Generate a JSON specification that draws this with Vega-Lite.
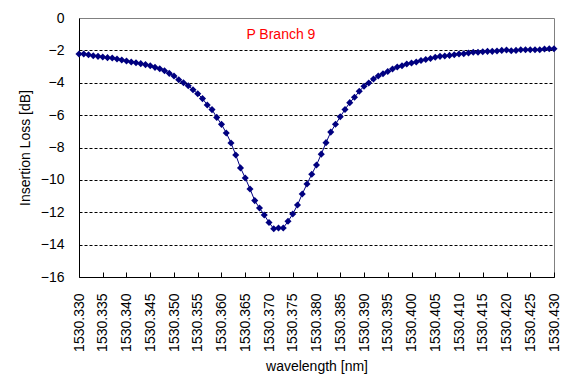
{
  "$schema": "https://vega.github.io/schema/vega-lite/v6.json",
  "autosize": "none",
  "width": 475,
  "height": 259,
  "padding": {"left": 79, "top": 18, "right": 22, "bottom": 103},
  "background": "white",
  "config": {
    "view": {"stroke": "#808080", "strokeWidth": 1},
    "axis": {
      "labelFont": "Liberation Sans",
      "titleFont": "Liberation Sans",
      "labelFontSize": 14,
      "titleFontSize": 14,
      "titleFontWeight": "normal",
      "labelColor": "black",
      "titleColor": "black",
      "domainColor": "black",
      "tickColor": "black"
    }
  },
  "layer": [
    {
      "data": {
        "values": [
          {"wavelength": 1530.330, "loss": -2.22},
          {"wavelength": 1530.331, "loss": -2.22},
          {"wavelength": 1530.332, "loss": -2.27},
          {"wavelength": 1530.333, "loss": -2.33},
          {"wavelength": 1530.334, "loss": -2.37},
          {"wavelength": 1530.335, "loss": -2.41},
          {"wavelength": 1530.336, "loss": -2.45},
          {"wavelength": 1530.337, "loss": -2.47},
          {"wavelength": 1530.338, "loss": -2.53},
          {"wavelength": 1530.339, "loss": -2.59},
          {"wavelength": 1530.340, "loss": -2.66},
          {"wavelength": 1530.341, "loss": -2.72},
          {"wavelength": 1530.342, "loss": -2.76},
          {"wavelength": 1530.343, "loss": -2.82},
          {"wavelength": 1530.344, "loss": -2.88},
          {"wavelength": 1530.345, "loss": -2.95},
          {"wavelength": 1530.346, "loss": -3.05},
          {"wavelength": 1530.347, "loss": -3.13},
          {"wavelength": 1530.348, "loss": -3.26},
          {"wavelength": 1530.349, "loss": -3.42},
          {"wavelength": 1530.350, "loss": -3.58},
          {"wavelength": 1530.351, "loss": -3.81},
          {"wavelength": 1530.352, "loss": -4.00},
          {"wavelength": 1530.353, "loss": -4.18},
          {"wavelength": 1530.354, "loss": -4.43},
          {"wavelength": 1530.355, "loss": -4.68},
          {"wavelength": 1530.356, "loss": -4.98},
          {"wavelength": 1530.357, "loss": -5.37},
          {"wavelength": 1530.358, "loss": -5.66},
          {"wavelength": 1530.359, "loss": -6.14},
          {"wavelength": 1530.360, "loss": -6.57},
          {"wavelength": 1530.361, "loss": -7.10},
          {"wavelength": 1530.362, "loss": -7.72},
          {"wavelength": 1530.363, "loss": -8.46},
          {"wavelength": 1530.364, "loss": -9.26},
          {"wavelength": 1530.365, "loss": -9.88},
          {"wavelength": 1530.366, "loss": -10.56},
          {"wavelength": 1530.367, "loss": -11.28},
          {"wavelength": 1530.368, "loss": -11.74},
          {"wavelength": 1530.369, "loss": -12.17},
          {"wavelength": 1530.370, "loss": -12.63},
          {"wavelength": 1530.371, "loss": -13.02},
          {"wavelength": 1530.372, "loss": -12.97},
          {"wavelength": 1530.373, "loss": -12.97},
          {"wavelength": 1530.374, "loss": -12.56},
          {"wavelength": 1530.375, "loss": -12.11},
          {"wavelength": 1530.376, "loss": -11.55},
          {"wavelength": 1530.377, "loss": -10.87},
          {"wavelength": 1530.378, "loss": -10.25},
          {"wavelength": 1530.379, "loss": -9.65},
          {"wavelength": 1530.380, "loss": -9.08},
          {"wavelength": 1530.381, "loss": -8.41},
          {"wavelength": 1530.382, "loss": -7.70},
          {"wavelength": 1530.383, "loss": -7.05},
          {"wavelength": 1530.384, "loss": -6.56},
          {"wavelength": 1530.385, "loss": -6.10},
          {"wavelength": 1530.386, "loss": -5.65},
          {"wavelength": 1530.387, "loss": -5.23},
          {"wavelength": 1530.388, "loss": -4.90},
          {"wavelength": 1530.389, "loss": -4.53},
          {"wavelength": 1530.390, "loss": -4.22},
          {"wavelength": 1530.391, "loss": -4.01},
          {"wavelength": 1530.392, "loss": -3.77},
          {"wavelength": 1530.393, "loss": -3.58},
          {"wavelength": 1530.394, "loss": -3.44},
          {"wavelength": 1530.395, "loss": -3.30},
          {"wavelength": 1530.396, "loss": -3.15},
          {"wavelength": 1530.397, "loss": -3.03},
          {"wavelength": 1530.398, "loss": -2.95},
          {"wavelength": 1530.399, "loss": -2.84},
          {"wavelength": 1530.400, "loss": -2.78},
          {"wavelength": 1530.401, "loss": -2.72},
          {"wavelength": 1530.402, "loss": -2.62},
          {"wavelength": 1530.403, "loss": -2.56},
          {"wavelength": 1530.404, "loss": -2.50},
          {"wavelength": 1530.405, "loss": -2.43},
          {"wavelength": 1530.406, "loss": -2.37},
          {"wavelength": 1530.407, "loss": -2.35},
          {"wavelength": 1530.408, "loss": -2.31},
          {"wavelength": 1530.409, "loss": -2.27},
          {"wavelength": 1530.410, "loss": -2.22},
          {"wavelength": 1530.411, "loss": -2.21},
          {"wavelength": 1530.412, "loss": -2.16},
          {"wavelength": 1530.413, "loss": -2.12},
          {"wavelength": 1530.414, "loss": -2.12},
          {"wavelength": 1530.415, "loss": -2.08},
          {"wavelength": 1530.416, "loss": -2.06},
          {"wavelength": 1530.417, "loss": -2.06},
          {"wavelength": 1530.418, "loss": -2.04},
          {"wavelength": 1530.419, "loss": -2.00},
          {"wavelength": 1530.420, "loss": -1.98},
          {"wavelength": 1530.421, "loss": -2.02},
          {"wavelength": 1530.422, "loss": -2.00},
          {"wavelength": 1530.423, "loss": -1.96},
          {"wavelength": 1530.424, "loss": -1.96},
          {"wavelength": 1530.425, "loss": -1.96},
          {"wavelength": 1530.426, "loss": -1.96},
          {"wavelength": 1530.427, "loss": -1.96},
          {"wavelength": 1530.428, "loss": -1.91},
          {"wavelength": 1530.429, "loss": -1.90},
          {"wavelength": 1530.430, "loss": -1.90}
        ]
      },
      "mark": {
        "type": "line",
        "color": "#000080",
        "strokeWidth": 1,
        "point": {"shape": "diamond", "size": 50, "filled": true, "color": "#000080", "opacity": 1}
      },
      "encoding": {
        "x": {
          "field": "wavelength",
          "type": "quantitative",
          "scale": {"domain": [1530.33, 1530.43], "zero": false, "nice": false},
          "axis": {
            "title": "wavelength [nm]",
            "values": [1530.330, 1530.335, 1530.340, 1530.345, 1530.350, 1530.355, 1530.360, 1530.365, 1530.370, 1530.375, 1530.380, 1530.385, 1530.390, 1530.395, 1530.400, 1530.405, 1530.410, 1530.415, 1530.420, 1530.425, 1530.430],
            "tickCount": 100,
            "format": ".3f",
            "labelAngle": -90,
            "labelPadding": 21,
            "tickSize": -5,
            "grid": false,
            "labelOverlap": false,
            "labelFlush": false,
            "titlePadding": 8
          }
        },
        "y": {
          "field": "loss",
          "type": "quantitative",
          "scale": {"domain": [-16, 0], "nice": false},
          "axis": {
            "title": "Insertion Loss [dB]",
            "values": [0, -2, -4, -6, -8, -10, -12, -14, -16],
            "tickCount": 100,
            "format": ".0f",
            "ticks": false,
            "labelPadding": 15,
            "labelOverlap": false,
            "grid": true,
            "gridColor": "black",
            "gridDash": [3, 2],
            "gridOpacity": {"condition": {"test": "datum.value == 0 || datum.value == -16", "value": 0}, "value": 1},
            "labelFlush": false,
            "titlePadding": 8
          }
        }
      }
    },
    {
      "data": {"values": [{"label": "P Branch 9"}]},
      "mark": {"type": "text", "color": "#FF0000", "font": "Liberation Sans", "fontSize": 14, "fontWeight": "normal"},
      "encoding": {
        "x": {"datum": 1530.3725, "type": "quantitative"},
        "y": {"datum": -1.03, "type": "quantitative"},
        "text": {"field": "label"}
      }
    }
  ]
}
